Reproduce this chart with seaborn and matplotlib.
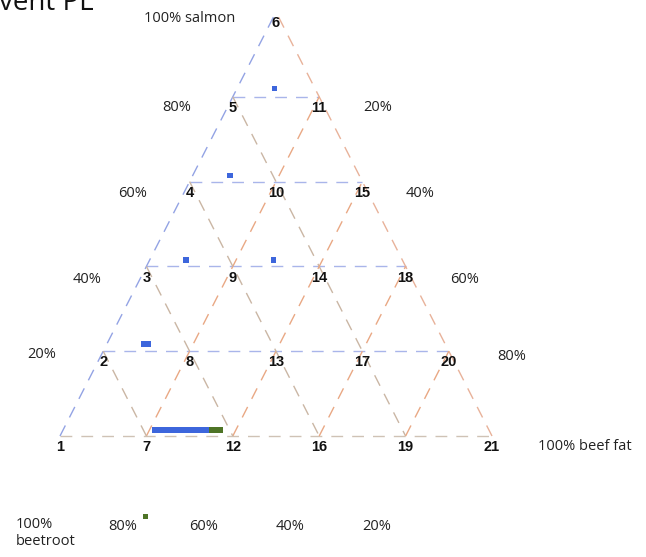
import numpy as np
import pandas as pd
import matplotlib
matplotlib.use("Agg")
import matplotlib.pyplot as plt
import seaborn as sns

# ---- data (ternary fractions: salmon, beef fat; beetroot = rest) ----
blue_salmon = [0.82, 0.615, 0.415, 0.415, 0.217, 0.217,
               0.014, 0.014, 0.014, 0.014, 0.014, 0.014,
               0.014, 0.014, 0.014, 0.014, 0.014, 0.014]
blue_beef = [0.086, 0.086, 0.084, 0.286, 0.084, 0.095,
             0.211, 0.222, 0.233, 0.244, 0.255, 0.266,
             0.277, 0.288, 0.299, 0.310, 0.321, 0.332]
green_salmon = [0.014, 0.014, 0.014, -0.19]
green_beef = [0.343, 0.354, 0.365, 0.292]

salmon_labels = ["100% salmon", "80%", "60%", "40%", "20%"]
beef_labels = ["20%", "40%", "60%", "80%", "100% beef fat"]
beet_labels = ["100%\nbeetroot", "80%", "60%", "40%", "20%"]

W, H = 646, 557
fig = plt.figure(figsize=(W / 100, H / 100), dpi=100)
sns.set_style("white")
plt.rcParams['font.family'] = ['Open Sans', 'DejaVu Sans']
ax = fig.add_axes([0, 0, 1, 1])

# pixel mapping: x_t in [0,1] -> 60..492 px, y_t in [0,1] -> 436..12 px
X0, XS, Y0, YS = 60, 432, 436, 424
ax.set_xlim(-X0 / XS, (W - X0) / XS)
ax.set_ylim((Y0 - H) / YS, Y0 / YS)
ax.set_axis_off()


def tern(s, b):
    s = np.asarray(s, float)
    b = np.asarray(b, float)
    return b + s / 2, s


def px(xp, yp):
    return (xp - X0) / XS, (Y0 - yp) / YS


dash = (8.5, 6.5)
lw = 1.0
c_blue = "#a9b5ea"
c_blue_edge = "#93a3e4"
c_orange = "#e9a884"
c_tan = "#cab6a4"
c_bottom = "#cfc2b5"
c_right = "#e8b29a"

# horizontal (constant salmon)
for k in range(1, 5):
    s = k / 5
    ax.plot([s / 2, 1 - s / 2], [s, s], color=c_blue, lw=lw, dashes=dash)
ax.plot([0, 1], [0, 0], color=c_bottom, lw=lw, dashes=dash)
ax.plot([0, 0.5], [0, 1], color=c_blue_edge, lw=lw, dashes=dash)
ax.plot([1, 0.5], [0, 1], color=c_right, lw=lw, dashes=dash)
for k in range(1, 5):
    b = k / 5
    ax.plot([b, b + (1 - b) / 2], [0, 1 - b], color=c_orange, lw=lw, dashes=dash)
    r = k / 5
    ax.plot([(1 - r) / 2, 1 - r], [1 - r, 0], color=c_tan, lw=lw, dashes=dash)

# vertex labels
n = 1
for i in range(6):
    b = i / 5
    for j in range(6 - i):
        s = j / 5
        x, y = tern(s, b)
        ax.annotate(str(n), (x, y), xytext=(0, -8), textcoords="offset points",
                    ha="center", va="center", fontsize=10.5, fontweight="bold",
                    family=["Liberation Sans", "DejaVu Sans"], color="#111111")
        n += 1

# points
df = pd.DataFrame({
    "x": np.concatenate([tern(blue_salmon, blue_beef)[0], tern(green_salmon, green_beef)[0]]),
    "y": np.concatenate([tern(blue_salmon, blue_beef)[1], tern(green_salmon, green_beef)[1]]),
    "group": ["blue"] * len(blue_salmon) + ["green"] * len(green_salmon),
})
sns.scatterplot(data=df, x="x", y="y", hue="group", marker="s", s=14,
                palette={"blue": "#3d66dc", "green": "#4e7426"},
                linewidth=0, legend=False, ax=ax)

# percentage labels
fs = 10.5
left_pos = [(190, 18), (177, 107), (133, 193), (87, 279), (42, 355)]
for t, (xp, yp) in zip(salmon_labels, left_pos):
    ax.text(*px(xp, yp), t, ha="center", va="center", fontsize=fs, color="#222222")
right_pos = [(378, 107), (420, 193), (465, 279), (512, 356)]
for t, (xp, yp) in zip(beef_labels[:-1], right_pos):
    ax.text(*px(xp, yp), t, ha="center", va="center", fontsize=fs, color="#222222")
ax.text(*px(538, 446), beef_labels[-1], ha="left", va="center", fontsize=fs, color="#222222")
ax.text(*px(16, 517), beet_labels[0], ha="left", va="top", fontsize=fs, color="#222222",
        linespacing=1.15)
bottom_pos = [(123, 526), (204, 526), (290, 526), (377, 526)]
for t, (xp, yp) in zip(beet_labels[1:], bottom_pos):
    ax.text(*px(xp, yp), t, ha="center", va="center", fontsize=fs, color="#222222")

# title, clipped at the top edge as in the reference
fig.text(-1 / W, 1 - 10 / H, "vent PL", ha="left", va="baseline", fontsize=20, color="#111111")

fig.savefig("out.png", dpi=100)
